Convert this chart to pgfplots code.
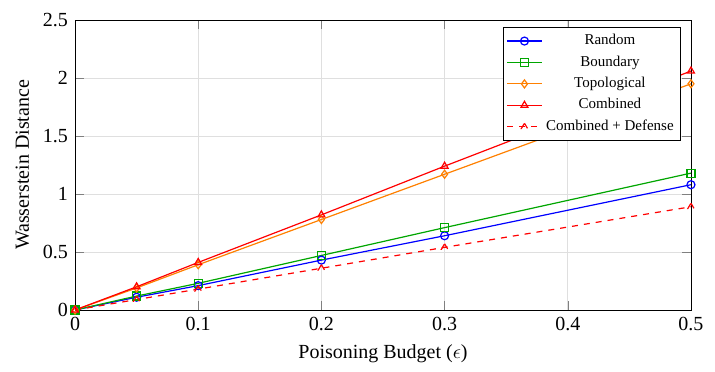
\documentclass[border=0pt]{standalone}
\usepackage{pgfplots}
\pgfplotsset{compat=1.18}
\usepackage{fontspec}
\setmainfont{Liberation Serif}
\begin{document}
\begin{tikzpicture}
\begin{axis}[
    scale only axis,
    width=308pt,
    height=145pt,
    xmin=0, xmax=0.5,
    ymin=0, ymax=2.5,
    xtick={0,0.1,0.2,0.3,0.4,0.5},
    ytick={0,0.5,1,1.5,2,2.5},
    grid=major,
    grid style={gray!25},
    xlabel={Poisoning Budget ($\epsilon$)},
    ylabel={Wasserstein Distance},
    /pgf/number format/assume math mode=true,
    legend style={at={(0.984,0.976)}, anchor=north east,
        font=\fontsize{7.5}{8.5}\selectfont, inner sep=1.5pt},
    legend cell align=center,
    clip=false,
    every axis plot/.append style={semithick},
]
\addplot[blue, mark=o] coordinates {
    (0,0) (0.05,0.11) (0.1,0.21) (0.2,0.43) (0.3,0.64) (0.5,1.08)
};
\addplot[green!65!black, mark=square] coordinates {
    (0,0) (0.05,0.12) (0.1,0.23) (0.2,0.47) (0.3,0.71) (0.5,1.18)
};
\addplot[orange, mark=diamond] coordinates {
    (0,0) (0.05,0.19) (0.1,0.39) (0.2,0.78) (0.3,1.17) (0.5,1.95)
};
\addplot[red, mark=triangle] coordinates {
    (0,0) (0.05,0.20) (0.1,0.41) (0.2,0.82) (0.3,1.24) (0.5,2.06)
};
\addplot[red, dashed, mark=triangle, mark size=1.8pt] coordinates {
    (0,0) (0.05,0.09) (0.1,0.18) (0.2,0.36) (0.3,0.54) (0.5,0.89)
};
\legend{Random, Boundary, Topological, Combined, Combined + Defense}
\path (rel axis cs:-0.1218,-0.2138) rectangle (rel axis cs:1.039,1.069);
\end{axis}
\end{tikzpicture}
\end{document}
